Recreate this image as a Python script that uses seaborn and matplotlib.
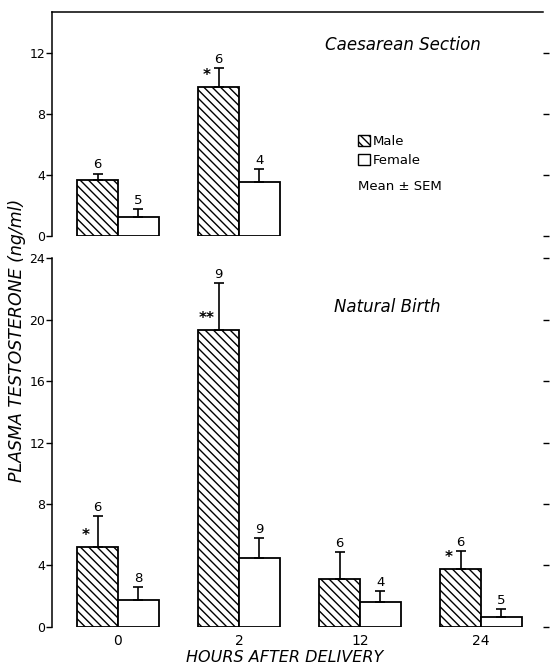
import matplotlib
matplotlib.use("Agg")
import matplotlib.pyplot as plt
import seaborn as sns
import pandas as pd
from matplotlib.patches import Patch

# ---------------- data ----------------
hours = ["0", "2", "12", "24"]
sexes = ["Male", "Female"]

cs_hours = ["0", "2"]
cs_male_mean = [3.7, 9.8]
cs_male_sem = [0.4, 1.25]
cs_male_n = [6, 6]
cs_female_mean = [1.25, 3.55]
cs_female_sem = [0.5, 0.85]
cs_female_n = [5, 4]
cs_sig = ["", "*"]

nb_hours = ["0", "2", "12", "24"]
nb_male_mean = [5.2, 19.3, 3.1, 3.75]
nb_male_sem = [2.0, 3.1, 1.8, 1.2]
nb_male_n = [6, 9, 6, 6]
nb_female_mean = [1.75, 4.5, 1.6, 0.65]
nb_female_sem = [0.85, 1.3, 0.75, 0.5]
nb_female_n = [8, 9, 4, 5]
nb_sig = ["*", "**", "", "*"]

HATCH = "\\\\\\\\"

sns.set_theme(style="white")
plt.rcParams["font.family"] = ["DejaVu Sans"]
plt.rcParams["hatch.linewidth"] = 1.0
plt.rcParams["hatch.color"] = "black"
plt.rcParams["text.color"] = "black"


def make_df(hrs, mm, fm):
    return pd.DataFrame({
        "hour": list(hrs) * 2,
        "sex": ["Male"] * len(hrs) + ["Female"] * len(hrs),
        "mean": list(mm) + list(fm),
    })


def draw(ax, hrs, mm, ms, mn, fm, fs, fn, sig, ymax, yticks):
    df = make_df(hrs, mm, fm)
    sns.barplot(data=df, x="hour", y="mean", hue="sex", order=hours,
                hue_order=sexes, palette={"Male": "white", "Female": "white"},
                edgecolor="black", linewidth=1.3, width=0.67, gap=0,
                errorbar=None, legend=False, saturation=1, ax=ax)
    stats = {"Male": (ms, mn), "Female": (fs, fn)}
    for sex, cont in zip(sexes, ax.containers):
        sem_, n_ = stats[sex]
        for bar in cont:
            cx = bar.get_x() + bar.get_width() / 2
            h = bar.get_height()
            i = hrs.index(hours[int(round(cx))])
            if sex == "Male":
                bar.set_hatch(HATCH)
            ax.errorbar(cx, h, yerr=[[0], [sem_[i]]], fmt="none", ecolor="black",
                        elinewidth=1.2, capsize=3.5, capthick=1.2, zorder=1)
            ax.annotate(str(n_[i]), xy=(cx, h + sem_[i]), xytext=(0, 1.5),
                        textcoords="offset points", ha="center", va="bottom",
                        fontsize=9.5)
            if sex == "Male" and sig[i]:
                ax.annotate(sig[i], xy=(cx, h), xytext=(-8.5, 3),
                            textcoords="offset points", ha="center", va="bottom",
                            fontsize=11, fontweight="bold")
    ax.set_ylim(0, ymax)
    ax.set_yticks(yticks)
    ax.set_yticklabels([str(t) for t in yticks])
    ax.set_xlim(-0.545, 3.512)
    ax.set_xlabel("")
    ax.set_ylabel("")
    ax.tick_params(axis="y", which="both", left=True, right=True, labelright=False,
                   direction="out", length=4, width=1, labelsize=9, pad=1,
                   color="black", labelcolor="black")
    for s in ["left", "right", "top", "bottom"]:
        ax.spines[s].set_color("black")
        ax.spines[s].set_linewidth(1.1)
    ax.spines["right"].set_visible(False)
    ax.spines["bottom"].set_visible(False)


fig = plt.figure(figsize=(5.52, 6.72), dpi=100)
ax_top = fig.add_axes([0.0942, 0.6488, 0.8895, 0.3333])
ax_bot = fig.add_axes([0.0942, 0.067, 0.8895, 0.549])

draw(ax_top, cs_hours, cs_male_mean, cs_male_sem, cs_male_n,
     cs_female_mean, cs_female_sem, cs_female_n, cs_sig, 14.7, [0, 4, 8, 12])
draw(ax_bot, nb_hours, nb_male_mean, nb_male_sem, nb_male_n,
     nb_female_mean, nb_female_sem, nb_female_n, nb_sig, 24, [0, 4, 8, 12, 16, 20, 24])

ax_top.spines["top"].set_visible(True)
ax_bot.spines["top"].set_visible(False)
ax_top.tick_params(axis="x", bottom=False, labelbottom=False)
ax_bot.tick_params(axis="x", bottom=False, labelsize=10, pad=-1, labelcolor="black")

ax_top.text(0.715, 0.853, "Caesarean Section", transform=ax_top.transAxes,
            ha="center", va="center", fontsize=12, style="italic")
ax_bot.text(0.682, 0.867, "Natural Birth", transform=ax_bot.transAxes,
            ha="center", va="center", fontsize=12, style="italic")

handles = [Patch(facecolor="white", edgecolor="black", hatch=HATCH, lw=1),
           Patch(facecolor="white", edgecolor="black", lw=1)]
ax_top.legend(handles, sexes, loc="upper left", bbox_to_anchor=(0.623, 0.45),
              frameon=False, handlelength=0.9, handleheight=0.9,
              handletextpad=0.25, labelspacing=0.45, fontsize=9.5,
              borderaxespad=0, borderpad=0, labelcolor="black")
ax_top.text(0.623, 0.219, "Mean ± SEM", transform=ax_top.transAxes,
            fontsize=9.5, va="center", ha="left")

fig.text(0.031, 0.494, "PLASMA TESTOSTERONE (ng/ml)", rotation=90,
         ha="center", va="center", fontsize=12.5, style="italic")
fig.text(0.516, 0.021, "HOURS AFTER DELIVERY", ha="center", va="center",
         fontsize=11.5, style="italic")

fig.savefig("out.png", dpi=100, facecolor="white")
